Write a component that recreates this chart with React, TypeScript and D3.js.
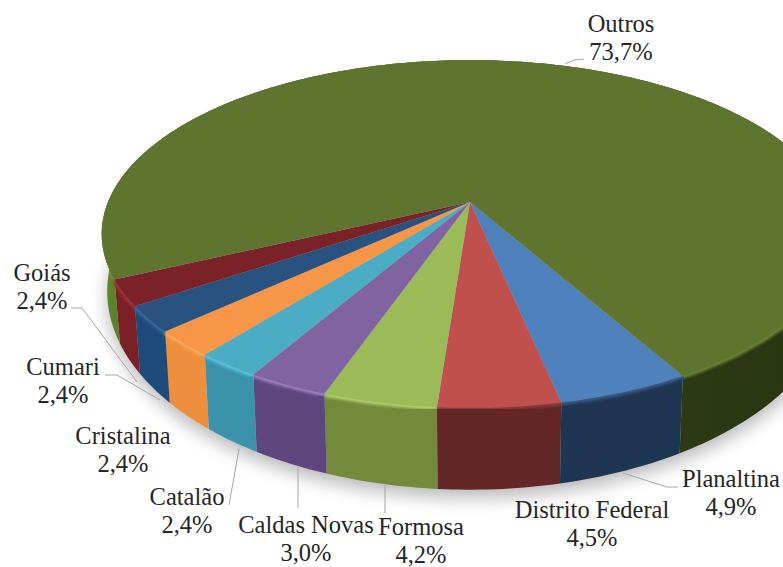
import React, { useEffect, useRef } from 'react';
import * as d3 from 'd3';

const names = ['Planaltina', 'Distrito Federal', 'Formosa', 'Caldas Novas', 'Catalão', 'Cristalina', 'Cumari', 'Goiás', 'Outros'];
const shares = [4.9, 4.5, 4.2, 3.0, 2.4, 2.4, 2.4, 2.4, 73.7];
const percentLabels = ['4,9%', '4,5%', '4,2%', '3,0%', '2,4%', '2,4%', '2,4%', '2,4%', '73,7%'];

const topColors = ['#4f81bd', '#c0504d', '#9bbb59', '#8064a2', '#4bacc6', '#f79646', '#28527f', '#7b2228', '#5f752f'];
const wallColors = ['#1f3652', '#642727', '#73893c', '#5e4780', '#3a93ab', '#ee8f3e', '#1f4a7c', '#7a2026', 'url(#outrosWall)'];
const rimColors = ['#3a5f8c', '#8f3d3b', '#b4d46c', '#a384c8', '#5cc6e0', '#fba860', '#3a6aa0', '#a03838', '#6d8a35'];

// label centre x and first baseline, same order as names
const labelX = [731, 592, 421, 306, 187, 123, 63, 42, 621];
const labelY = [487, 518, 535, 533, 505, 444, 375, 281, 32];
const leaders: ([number, number][] | null)[] = [
  [[678, 487], [667, 487], [623, 473]],
  null,
  [[385, 513], [385, 485]],
  [[298, 508], [298, 467]],
  [[229, 505], [239, 449]],
  null,
  [[105, 375], [117, 375], [160, 400]],
  [[71, 308], [82, 308], [137, 382]],
  [[584, 59], [574, 60], [565, 64]],
];

const width = 783;
const height = 567;

// perspective disc: apex of the pie is not the centre of the ellipse
const apexX = 470;
const apexY = 202;
const persp = 0.184;
const scaleA = 168;
const scaleB = 362;
const startAngle = (150.4 * Math.PI) / 180;

function topPoint(angle: number): [number, number] {
  const u = Math.sin(angle);
  const v = -Math.cos(angle);
  const w = 1 - persp * v;
  return [apexX + (scaleB * u) / w, apexY + (scaleA * v) / w];
}

function bottomPoint(angle: number): [number, number] {
  const [x, y] = topPoint(angle);
  return [apexX + (x - apexX) * 0.985, apexY + 53 + (y - apexY) * 1.14];
}

const App = () => {
  const svgRef = useRef<SVGSVGElement>(null);

  useEffect(() => {
    const svg = d3.select(svgRef.current);
    svg.selectAll('*').remove();

    const pie = d3.pie<number>()
      .sort(null)
      .startAngle(startAngle)
      .endAngle(startAngle + 2 * Math.PI);
    const arcs = pie(shares);

    const line = d3.line();
    const sample = (a0: number, a1: number, f: (a: number) => [number, number]) => {
      const n = Math.max(4, Math.ceil((a1 - a0) * 60));
      return d3.range(n + 1).map(i => f(a0 + ((a1 - a0) * i) / n));
    };
    const bottomOutline = line(sample(0, 2 * Math.PI, bottomPoint)) + 'Z';
    const topOutline = line(sample(0, 2 * Math.PI, topPoint)) + 'Z';

    const defs = svg.append('defs');
    const grad = defs.append('linearGradient')
      .attr('id', 'outrosWall')
      .attr('gradientUnits', 'userSpaceOnUse')
      .attr('x1', 100).attr('x2', 783).attr('y1', 0).attr('y2', 0);
    grad.append('stop').attr('offset', 0).attr('stop-color', '#5f8a2c');
    grad.append('stop').attr('offset', 0.05).attr('stop-color', '#587229');
    grad.append('stop').attr('offset', 0.8).attr('stop-color', '#2f3c14');
    grad.append('stop').attr('offset', 1).attr('stop-color', '#2a3512');
    defs.append('filter').attr('id', 'shadowBlur')
      .attr('x', '-10%').attr('y', '-10%').attr('width', '120%').attr('height', '120%')
      .append('feGaussianBlur').attr('stdDeviation', 9);
    defs.append('filter').attr('id', 'rimBlur')
      .attr('x', '-10%').attr('y', '-10%').attr('width', '120%').attr('height', '120%')
      .append('feGaussianBlur').attr('stdDeviation', 1.6);
    const clip = defs.append('clipPath').attr('id', 'discClip');
    clip.append('path').attr('d', bottomOutline);
    clip.append('path').attr('d', topOutline);

    // soft shadow below the disc
    svg.append('path')
      .attr('d', bottomOutline)
      .attr('transform', 'translate(0,8)')
      .attr('fill', '#000')
      .attr('opacity', 0.28)
      .attr('filter', 'url(#shadowBlur)');

    const pieG = svg.append('g');

    // side walls, then the rim bevel, then the top faces
    pieG.selectAll('path.wall')
      .data(arcs)
      .join('path')
      .attr('class', 'wall')
      .attr('fill', (d, i) => wallColors[i])
      .attr('d', d => line([
        ...sample(d.startAngle, d.endAngle, topPoint),
        ...sample(d.startAngle, d.endAngle, bottomPoint).reverse(),
      ]) + 'Z');

    pieG.append('g')
      .attr('clip-path', 'url(#discClip)')
      .selectAll('path.rim')
      .data(arcs)
      .join('path')
      .attr('class', 'rim')
      .attr('fill', 'none')
      .attr('stroke', (d, i) => rimColors[i])
      .attr('stroke-width', 5)
      .attr('filter', 'url(#rimBlur)')
      .attr('d', d => line(sample(d.startAngle, d.endAngle, topPoint)));

    pieG.selectAll('path.top')
      .data(arcs)
      .join('path')
      .attr('class', 'top')
      .attr('fill', (d, i) => topColors[i])
      .attr('d', d => line([
        [apexX, apexY],
        ...sample(d.startAngle, d.endAngle, topPoint),
      ]) + 'Z');

    // leader lines
    svg.selectAll('path.leader')
      .data(leaders.filter(Boolean) as [number, number][][])
      .join('path')
      .attr('class', 'leader')
      .attr('fill', 'none')
      .attr('stroke', '#a6a6a6')
      .attr('stroke-width', 1)
      .attr('d', d => line(d));

    const labels = svg.append('g')
      .attr('font-family', '"Liberation Serif", "Times New Roman", serif')
      .attr('font-size', 24.5)
      .attr('fill', '#262626')
      .attr('text-anchor', 'middle');
    names.forEach((name, i) => {
      labels.append('text').attr('x', labelX[i]).attr('y', labelY[i]).text(name);
      labels.append('text').attr('x', labelX[i]).attr('y', labelY[i] + 28).text(percentLabels[i]);
    });
  }, []);

  return (
    <svg
      ref={svgRef}
      width={width}
      height={height}
      viewBox={`0 0 ${width} ${height}`}
      style={{ position: 'fixed', left: 0, top: 0, background: '#fff' }}
    />
  );
};

export default App;
